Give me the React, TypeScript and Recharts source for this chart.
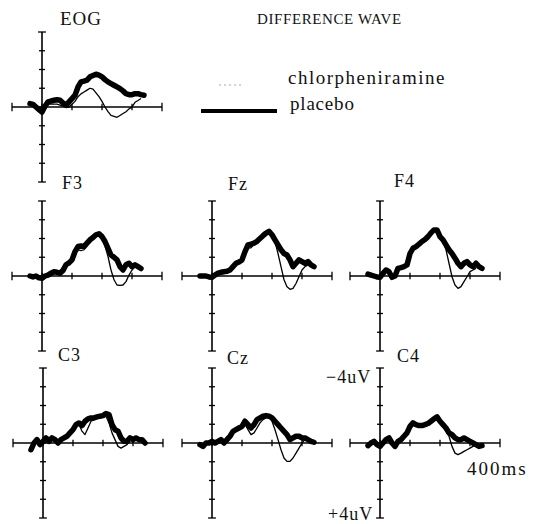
import React from "react";
import { LineChart, Line, XAxis, YAxis, ReferenceLine } from "recharts";

// time axis (ms) shared by all panels
const times = [-40, -30, -20, -10, 0, 10, 20, 30, 40, 50, 60, 70, 80, 90, 100, 110, 120, 130, 140, 150, 160, 170, 180, 190, 200, 210, 220, 230, 240, 250, 260, 270, 280, 290, 300, 310, 320, 330, 340];

// values in microvolts (negative plotted upward)
const eogPlacebo = [-0.18, -0.14, 0, 0.14, 0.27, -0.04, -0.27, -0.32, -0.36, -0.39, -0.36, -0.21, -0.09, -0.27, -0.45, -0.63, -1.07, -1.34, -1.38, -1.43, -1.61, -1.68, -1.75, -1.7, -1.61, -1.46, -1.34, -1.25, -1.16, -1.07, -0.98, -0.86, -0.71, -0.66, -0.66, -0.71, -0.71, -0.66, -0.63];
const eogChlor = [-0.1, -0.1, 0, 0.1, 0.2, 0, -0.15, -0.15, -0.15, -0.15, -0.1, -0.05, 0, 0, -0.15, -0.3, -0.55, -0.7, -0.8, -0.9, -1.0, -0.95, -0.75, -0.55, -0.3, 0, 0.25, 0.45, 0.5, 0.55, 0.45, 0.35, 0.25, 0.1, 0, -0.25, -0.35, -0.45, null];

const f3Placebo = [0, 0.05, 0, 0.1, 0.12, 0, -0.05, -0.15, -0.23, -0.2, -0.15, -0.3, -0.6, -0.7, -0.86, -1.3, -1.57, -1.6, -1.57, -1.75, -1.93, -2.05, -2.2, -2.25, -2.1, -1.84, -1.48, -1.12, -1.0, -0.86, -0.5, -0.32, -0.6, -0.68, -0.5, -0.6, -0.5, -0.4, null];
const f3Chlor = [0, 0, 0.05, 0.1, 0.1, 0, -0.05, -0.1, -0.2, -0.2, -0.15, -0.25, -0.55, -0.65, -0.8, -1.2, -1.4, -1.35, -1.4, -1.65, -1.85, -2.0, -2.15, -2.2, -1.95, -1.6, -1.04, -0.32, 0.2, 0.48, 0.5, 0.48, 0.3, -0.05, -0.32, -0.5, -0.5, -0.4, null];

const fzPlacebo = [0, 0, 0, 0.05, 0.07, -0.05, -0.15, -0.2, -0.23, -0.25, -0.32, -0.5, -0.68, -0.75, -0.86, -1.3, -1.66, -1.7, -1.75, -1.85, -2.0, -2.15, -2.29, -2.38, -2.2, -1.93, -1.66, -1.4, -1.2, -1.12, -0.86, -0.5, -0.68, -0.86, -0.77, -0.68, -0.77, -0.59, -0.5];
const fzChlor = [0, 0, 0, 0.05, 0.05, -0.05, -0.1, -0.15, -0.2, -0.25, -0.3, -0.45, -0.55, -0.7, -0.8, -1.2, -1.5, -1.5, -1.7, -1.8, -1.95, -2.1, -2.25, -2.3, -2.1, -1.84, -1.2, -0.5, 0.2, 0.57, 0.71, 0.66, 0.4, 0.04, -0.32, -0.5, -0.59, -0.59, null];

const f4Placebo = [-0.1, -0.05, 0, 0.05, 0.07, -0.14, -0.32, -0.23, 0.07, 0, -0.41, -0.45, -0.5, -0.59, -1.2, -1.48, -1.57, -1.7, -1.84, -1.95, -2.1, -2.3, -2.46, -2.46, -2.1, -1.93, -1.66, -1.4, -1.2, -0.95, -0.68, -0.5, -0.68, -0.77, -0.59, -0.5, -0.68, -0.5, -0.41];
const f4Chlor = [-0.05, 0, 0, 0.05, 0.05, -0.1, -0.25, -0.2, 0.05, 0, -0.35, -0.4, -0.45, -0.55, -1.1, -1.4, -1.5, -1.65, -1.8, -1.9, -2.05, -2.25, -2.4, -2.4, -2.05, -1.85, -1.4, -0.68, 0.04, 0.48, 0.66, 0.57, 0.3, 0.04, -0.23, -0.32, -0.41, null, null];

const c3Placebo = [0.36, 0, -0.18, 0.09, -0.09, -0.27, -0.09, -0.27, -0.18, 0, -0.18, -0.27, -0.36, -0.54, -0.71, -0.98, -1.07, -0.93, -1.16, -1.29, -1.34, -1.34, -1.39, -1.43, -1.46, -1.57, -1.52, -0.98, -0.71, -0.63, -0.27, -0.09, -0.09, -0.27, -0.18, -0.27, -0.18, -0.18, 0];
const c3Chlor = [0.3, 0, -0.15, 0.05, -0.05, -0.2, -0.1, -0.2, -0.15, 0, -0.15, -0.25, -0.35, -0.5, -0.7, -0.95, -1.0, -0.63, -0.45, -0.8, -1.16, -1.25, -1.34, -1.4, -1.43, -1.43, -1.07, -0.54, -0.18, 0.18, 0.27, 0.18, 0.09, -0.18, -0.27, -0.18, -0.09, -0.18, 0];

const czPlacebo = [0.09, 0.18, 0, 0, -0.09, 0, -0.09, -0.18, 0, -0.18, -0.36, -0.62, -0.71, -0.8, -0.89, -1.16, -0.98, -0.8, -0.98, -1.25, -1.34, -1.43, -1.46, -1.43, -1.34, -1.16, -0.98, -0.8, -0.62, -0.45, -0.18, -0.27, -0.36, -0.36, -0.27, -0.27, -0.18, -0.09, -0.04];
const czChlor = [0.05, 0.15, 0, 0, -0.05, 0, -0.05, -0.15, 0, -0.15, -0.3, -0.55, -0.65, -0.75, -0.85, -1.0, -0.71, -0.45, -0.54, -0.8, -1.07, -1.25, -1.34, -1.39, -1.16, -0.71, -0.18, 0.36, 0.8, 0.98, 0.98, 0.8, 0.54, 0.27, 0, -0.18, -0.18, null, null];

const c4Placebo = [0.14, 0, -0.09, 0.09, 0.18, 0, -0.18, -0.27, 0, 0.18, -0.09, -0.18, -0.36, -0.54, -0.89, -1.07, -0.98, -0.93, -0.93, -0.98, -1.04, -1.16, -1.29, -1.39, -1.16, -0.98, -0.8, -0.54, -0.45, -0.27, -0.18, -0.18, -0.27, -0.18, -0.09, 0, 0.09, 0.18, 0.14];
const c4Chlor = [0.1, 0, -0.05, 0.05, 0.15, 0, -0.15, -0.2, 0, 0.15, -0.05, -0.15, -0.3, -0.5, -0.85, -1.0, -0.95, -0.9, -0.9, -0.95, -1.0, -1.1, -1.25, -1.35, -1.2, -0.89, -0.62, -0.36, 0.18, 0.54, 0.62, 0.54, 0.45, 0.36, 0.27, 0.18, 0.09, null, null];

const panelNames = ["EOG", "F3", "Fz", "F4", "C3", "Cz", "C4"];
const placeboSeries = [eogPlacebo, f3Placebo, fzPlacebo, f4Placebo, c3Placebo, czPlacebo, c4Placebo];
const chlorSeries = [eogChlor, f3Chlor, fzChlor, f4Chlor, c3Chlor, czChlor, c4Chlor];

const xTicks = [-100, 0, 100, 200, 300, 400];
const yTicks = [-4, -3, -2, -1, 0, 1, 2, 3, 4];

const legendTitle = "DIFFERENCE WAVE";
const legendThin = "chlorpheniramine";
const legendThick = "placebo";
const yTopLabel = "\u22124uV";
const yBottomLabel = "+4uV";
const xEndLabel = "400ms";

// layout (pixels) — zero-origin of each panel on the page
const panelOrigins = [
  { x: 42, y: 107 },
  { x: 42, y: 276 },
  { x: 212, y: 276 },
  { x: 380, y: 276 },
  { x: 43, y: 443 },
  { x: 212, y: 443 },
  { x: 380, y: 443 },
];
// title placement: left x and baseline y on the page
const titlePos = [
  { x: 60, b: 25, s: 19 },
  { x: 62, b: 189, s: 18 },
  { x: 228, b: 190, s: 18 },
  { x: 394, b: 187, s: 18 },
  { x: 58, b: 361, s: 18 },
  { x: 227, b: 364, s: 18 },
  { x: 397, b: 362, s: 18 },
];

const PX_PER_MS = 0.3;
const PX_PER_UV = 18.75;
const PAD = 8;
const TICK_MS = 10;
const TICK_UV = 0.17;
const FONT = "'Liberation Serif', 'DejaVu Serif', serif";

function Panel({ idx }: { idx: number }) {
  const o = panelOrigins[idx];
  const w = 500 * PX_PER_MS;
  const h = 8 * PX_PER_UV;
  const data = times.map((t, i) => ({
    t,
    placebo: placeboSeries[idx][i],
    chlor: chlorSeries[idx][i],
  }));
  const left = o.x - 100 * PX_PER_MS - PAD;
  const top = o.y - 4 * PX_PER_UV - PAD;
  return (
    <div style={{ position: "absolute", left, top }}>
      <LineChart
        width={w + 2 * PAD}
        height={h + 2 * PAD}
        data={data}
        margin={{ top: PAD, right: PAD, bottom: PAD, left: PAD }}
      >
        <XAxis type="number" dataKey="t" domain={[-100, 400]} hide />
        <YAxis type="number" domain={[-4, 4]} reversed hide />
        <ReferenceLine segment={[{ x: -100, y: 0 }, { x: 400, y: 0 }]} stroke="#000" strokeWidth={1.3} />
        <ReferenceLine segment={[{ x: 0, y: -4 }, { x: 0, y: 4 }]} stroke="#000" strokeWidth={1.6} />
        {xTicks.map((t) => (
          <ReferenceLine
            key={"xt" + t}
            segment={[{ x: t, y: -TICK_UV * (t === -100 || t === 400 ? 1.3 : 1) }, { x: t, y: TICK_UV * (t === -100 || t === 400 ? 1.3 : 1) }]}
            stroke="#000"
            strokeWidth={1.3}
          />
        ))}
        {yTicks.map((v) => (
          <ReferenceLine
            key={"yt" + v}
            segment={[{ x: -TICK_MS * (Math.abs(v) === 4 ? 1.3 : 1), y: v }, { x: TICK_MS * (Math.abs(v) === 4 ? 1.3 : 1), y: v }]}
            stroke="#000"
            strokeWidth={1.3}
          />
        ))}
        <Line
          dataKey="placebo"
          stroke="#000"
          strokeWidth={5.5}
          dot={false}
          isAnimationActive={false}
          strokeLinejoin="round"
          strokeLinecap="round"
        />
        <Line
          dataKey="chlor"
          stroke="#000"
          strokeWidth={1.3}
          dot={false}
          isAnimationActive={false}
          strokeLinejoin="round"
        />
      </LineChart>
    </div>
  );
}

const Label = ({ s, x, b, size, ls = 1 }: { s: string; x: number; b: number; size: number; ls?: number }) => (
  <div
    style={{
      position: "absolute",
      left: x,
      top: b - 0.8375 * size,
      fontFamily: FONT,
      fontSize: size,
      lineHeight: 1,
      letterSpacing: ls,
      color: "#111",
      whiteSpace: "nowrap",
    }}
  >
    {s}
  </div>
);

export default function App() {
  return (
    <div style={{ position: "absolute", left: 0, top: 0, width: 544, height: 524, background: "#fff", overflow: "hidden" }}>
      {panelNames.map((_, i) => (
        <Panel key={i} idx={i} />
      ))}
      {panelNames.map((n, i) => (
        <Label key={"t" + n} s={n} x={titlePos[i].x} b={titlePos[i].b} size={titlePos[i].s} ls={1} />
      ))}
      <Label s={legendTitle} x={257} b={25} size={15} ls={0.6} />
      <Label s={legendThin} x={288} b={84} size={19} ls={1.5} />
      <Label s={legendThick} x={290} b={110} size={19} ls={0.8} />
      <svg style={{ position: "absolute", left: 0, top: 0 }} width={544} height={524}>
        <line x1={219} y1={85} x2={243} y2={85} stroke="#aaa" strokeWidth={1} strokeDasharray="2 3" />
        <line x1={201} y1={111} x2={277} y2={111} stroke="#000" strokeWidth={4} />
      </svg>
      <Label s={yTopLabel} x={326} b={383} size={18} ls={1} />
      <Label s={yBottomLabel} x={328} b={520} size={18} ls={1} />
      <Label s={xEndLabel} x={467} b={475} size={19} ls={2} />
    </div>
  );
}
